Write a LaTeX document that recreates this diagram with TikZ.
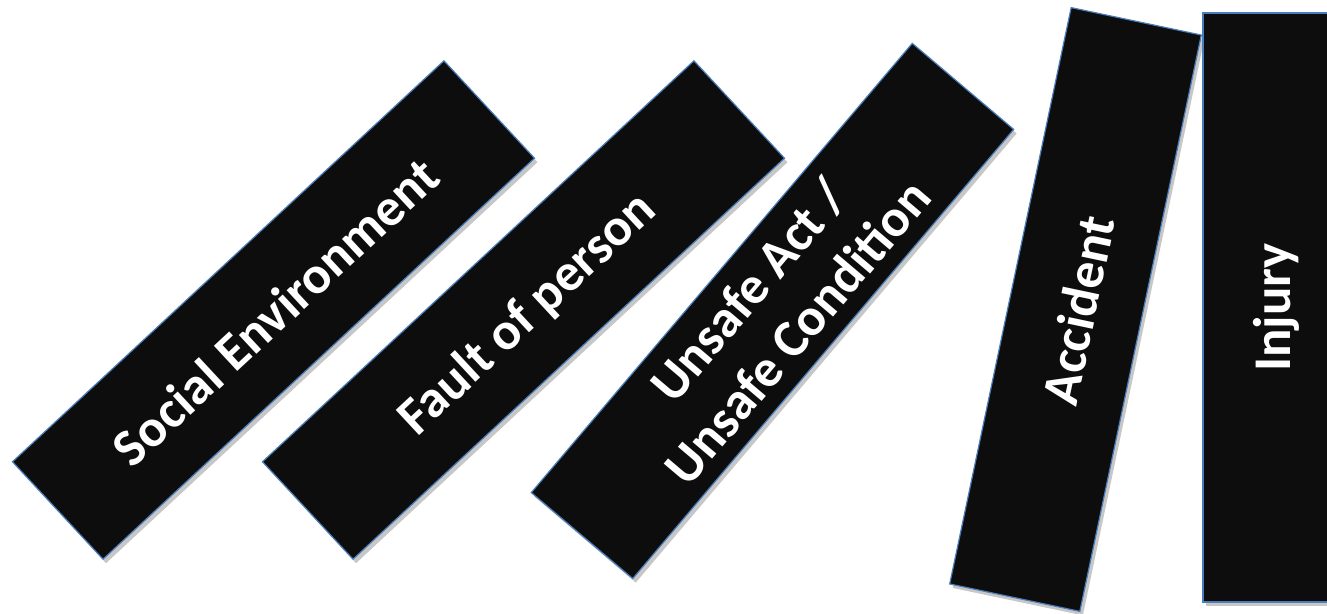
\documentclass[tikz,border=0pt]{standalone}
\usepackage{fontspec}
\setmainfont{Carlito}
\usepackage{xcolor}
\usepackage{tikz}
\usetikzlibrary{shadows}
\definecolor{Domino}{HTML}{0D0D0D}
\definecolor{Rim}{HTML}{4A7EBB}

\begin{document}
\begin{tikzpicture}[x=1pt,y=1pt,
  domino/.style={draw=Rim,line width=1.2pt,fill=Domino,text=white,align=center,
    minimum width=589pt,minimum height=133pt,inner sep=0pt,
    font=\bfseries\fontsize{53}{64}\selectfont,
    drop shadow={shadow xshift=3pt,shadow yshift=-4pt,opacity=0.22,fill=black}},
  oneline/.style={text height=42pt,text depth=0pt}]
  \useasboundingbox (0,0) rectangle (1327,613);
  \node[domino,oneline,rotate=42.9] (social) at (273.5,303) {Social Environment};
  \node[domino,oneline,rotate=42.9] (fault) at (523.5,303) {Fault of person};
  \node[domino,rotate=49.7] (unsafe) at (772.5,302) {Unsafe Act /\\Unsafe Condition};
  \node[domino,oneline,rotate=78.1] (accident) at (1075.5,303.5) {Accident};
  \node[domino,oneline,rotate=90] (injury) at (1269.5,305.5) {Injury};
\end{tikzpicture}
\end{document}
